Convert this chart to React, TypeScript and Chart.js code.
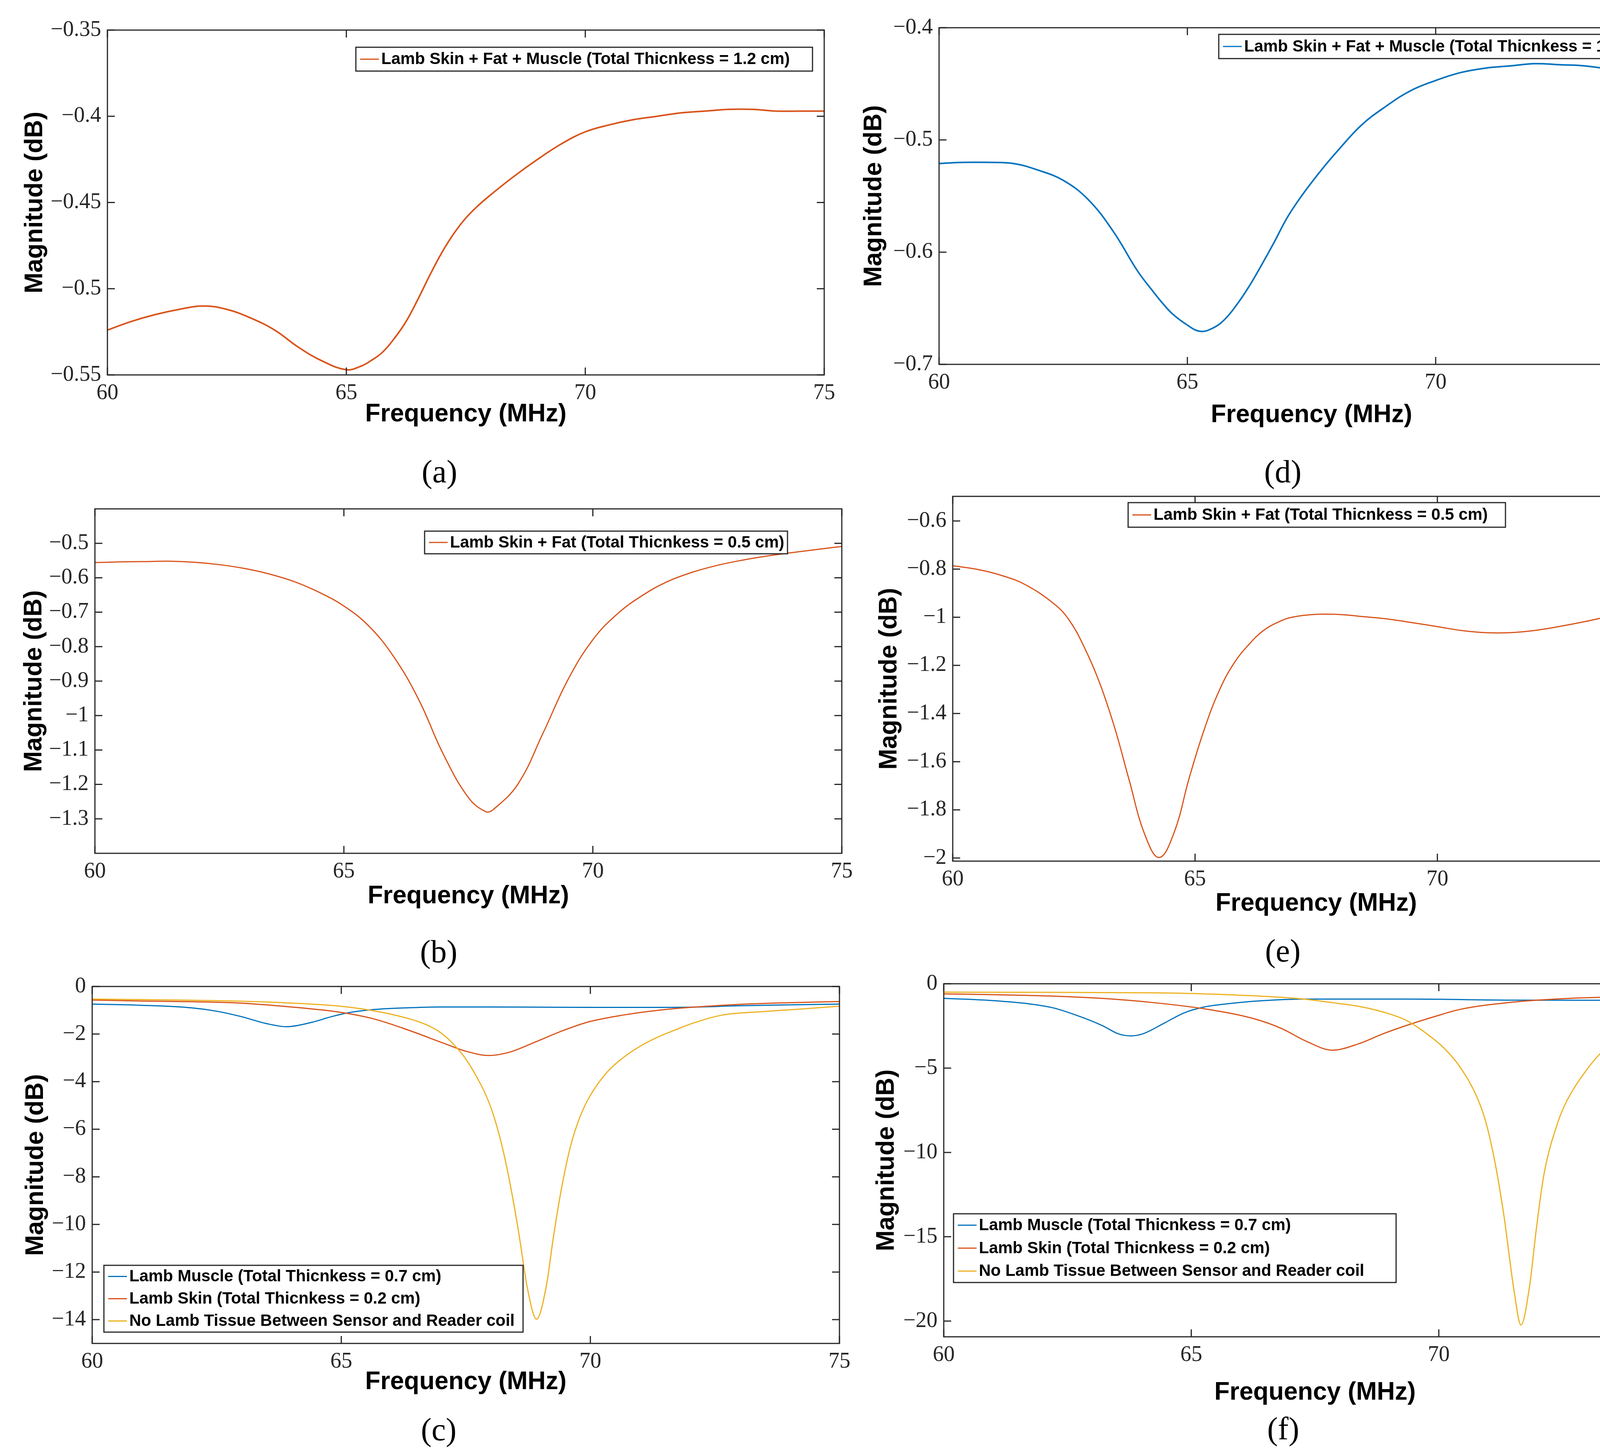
import React, { useEffect, useRef } from 'react';
import { Chart, registerables } from 'chart.js';

Chart.register(...registerables);

// ---------------- data ----------------
const FREQ_TICKS = [60, 65, 70, 75];

const BLUE = '#0072BD';
const ORANGE = '#D95319';
const YELLOW = '#EDB120';

// (a) Lamb Skin + Fat + Muscle, 1.2 cm
const freqA = [60, 60.5, 61, 61.5, 62, 62.5, 63, 63.5, 64, 64.5, 65, 65.3, 65.5, 65.75, 66, 66.25, 66.5, 66.75, 67, 67.25, 67.5, 67.75, 68, 68.5, 69, 69.5, 70, 70.5, 71, 71.5, 72, 72.5, 73, 73.5, 74, 74.5, 75];
const magA = [-0.524, -0.519, -0.515, -0.512, -0.510, -0.512, -0.517, -0.524, -0.534, -0.542, -0.547, -0.545, -0.542, -0.537, -0.529, -0.519, -0.506, -0.492, -0.479, -0.468, -0.459, -0.452, -0.446, -0.435, -0.425, -0.416, -0.409, -0.405, -0.402, -0.400, -0.398, -0.397, -0.396, -0.396, -0.397, -0.397, -0.397];
const yTicksA = [-0.55, -0.5, -0.45, -0.4, -0.35];

// (d) Lamb Skin + Fat + Muscle, 1.2 cm
const freqD = [60, 60.5, 61, 61.5, 62, 62.5, 63, 63.5, 64, 64.3, 64.5, 64.7, 65, 65.25, 65.5, 65.75, 66, 66.25, 66.5, 66.75, 67, 67.25, 67.5, 67.75, 68, 68.5, 69, 69.5, 70, 70.5, 71, 71.5, 72, 72.5, 73, 73.5, 74, 74.5, 75];
const magD = [-0.521, -0.520, -0.520, -0.521, -0.527, -0.536, -0.553, -0.581, -0.617, -0.6345, -0.6455, -0.655, -0.665, -0.6705, -0.668, -0.660, -0.6465, -0.630, -0.611, -0.591, -0.570, -0.553, -0.538, -0.524, -0.511, -0.487, -0.470, -0.456, -0.447, -0.440, -0.436, -0.434, -0.432, -0.433, -0.434, -0.437, -0.441, -0.444, -0.449];
const yTicksD = [-0.7, -0.6, -0.5, -0.4];

// (b) Lamb Skin + Fat, 0.5 cm
const freqB = [60, 60.5, 61, 61.5, 62, 62.5, 63, 63.5, 64, 64.5, 65, 65.5, 66, 66.5, 67, 67.5, 67.85, 68, 68.5, 69, 69.5, 70, 70.5, 71, 71.5, 72, 72.5, 73, 73.5, 74, 74.5, 75];
const magB = [-0.556, -0.554, -0.553, -0.552, -0.555, -0.562, -0.573, -0.589, -0.611, -0.642, -0.682, -0.740, -0.829, -0.953, -1.113, -1.238, -1.279, -1.273, -1.198, -1.051, -0.896, -0.780, -0.704, -0.651, -0.611, -0.584, -0.564, -0.549, -0.537, -0.527, -0.518, -0.509];
const yTicksB = [-1.3, -1.2, -1.1, -1, -0.9, -0.8, -0.7, -0.6, -0.5];

// (e) Lamb Skin + Fat, 0.5 cm
const freqE = [60, 60.5, 61, 61.5, 62.1, 62.41, 62.72, 63.03, 63.34, 63.64, 63.96, 64.26, 64.57, 64.88, 65.19, 65.5, 65.8, 66.12, 66.42, 66.73, 67, 67.5, 68, 68.5, 69, 69.5, 70, 70.5, 71, 71.5, 72, 72.5, 73, 73.5, 74, 74.5, 75];
const magE = [-0.786, -0.801, -0.826, -0.865, -0.946, -1.014, -1.127, -1.272, -1.458, -1.676, -1.901, -1.998, -1.893, -1.667, -1.466, -1.304, -1.192, -1.111, -1.054, -1.019, -1.000, -0.988, -0.989, -0.998, -1.008, -1.023, -1.039, -1.055, -1.064, -1.064, -1.055, -1.039, -1.020, -0.998, -0.975, -0.954, -0.934];
const yTicksE = [-2, -1.8, -1.6, -1.4, -1.2, -1, -0.8, -0.6];

// (c) three series
const freqC1 = [60, 61, 62, 62.5, 63, 63.5, 63.9, 64.4, 64.8, 65.1, 65.65, 66.4, 67, 68, 69, 70, 71, 72, 73, 74, 75];
const magC1 = [-0.74, -0.79, -0.90, -1.04, -1.27, -1.56, -1.69, -1.51, -1.27, -1.12, -0.97, -0.89, -0.86, -0.86, -0.87, -0.88, -0.88, -0.87, -0.81, -0.77, -0.74];
const freqC2 = [60, 61, 62, 63, 64.2, 64.94, 65.65, 66.37, 67.1, 67.5, 67.97, 68.38, 68.91, 69.43, 69.96, 70.66, 71.36, 72.06, 73, 74, 75];
const magC2 = [-0.57, -0.61, -0.64, -0.70, -0.90, -1.07, -1.36, -1.85, -2.42, -2.72, -2.90, -2.76, -2.32, -1.87, -1.49, -1.20, -1.00, -0.87, -0.75, -0.68, -0.63];
const freqC3 = [60, 61, 62, 63, 64.22, 64.94, 65.65, 66.37, 66.72, 67.0, 67.25, 67.5, 67.75, 67.9, 68.04, 68.21, 68.38, 68.56, 68.74, 68.92, 69.12, 69.26, 69.43, 69.61, 69.79, 69.96, 70.31, 70.66, 71.01, 71.36, 71.71, 72.06, 72.65, 73.5, 74.2, 75];
const magC3 = [-0.53, -0.55, -0.58, -0.62, -0.72, -0.82, -1.02, -1.36, -1.62, -1.95, -2.42, -3.05, -3.92, -4.55, -5.31, -6.56, -8.2, -10.32, -12.72, -13.98, -12.54, -10.5, -8.38, -6.65, -5.49, -4.72, -3.66, -2.99, -2.5, -2.12, -1.82, -1.54, -1.2, -1.05, -0.95, -0.83];
const yTicksC = [-14, -12, -10, -8, -6, -4, -2, 0];

// (f) three series
const freqF1 = [60, 61.14, 62.18, 62.69, 63.21, 63.52, 63.78, 64.03, 64.45, 64.86, 65.27, 65.79, 66.3, 67.33, 69.4, 71.46, 73.53, 75];
const magF1 = [-0.86, -1.03, -1.41, -1.88, -2.49, -2.96, -3.09, -2.96, -2.34, -1.72, -1.37, -1.17, -1.03, -0.91, -0.91, -0.97, -0.98, -0.94];
const freqF2 = [60, 61, 62.18, 63.21, 64.24, 65.27, 66.3, 66.82, 67.33, 67.85, 68.37, 68.88, 69.4, 69.91, 70.43, 71.5, 72.55, 73.6, 75];
const magF2 = [-0.6, -0.65, -0.73, -0.87, -1.12, -1.49, -2.1, -2.65, -3.42, -3.94, -3.57, -2.96, -2.42, -1.95, -1.52, -1.09, -0.88, -0.78, -0.69];
const freqF3 = [60, 62.18, 64.24, 65.27, 66.3, 67.13, 67.85, 68.37, 68.88, 69.35, 69.75, 70.1, 70.42, 70.78, 70.96, 71.14, 71.32, 71.51, 71.66, 71.83, 71.97, 72.12, 72.41, 72.59, 72.95, 73.31, 73.68, 74.04, 74.4, 75];
const magF3 = [-0.5, -0.51, -0.54, -0.6, -0.72, -0.87, -1.12, -1.33, -1.68, -2.18, -2.95, -3.8, -4.9, -6.78, -8.31, -10.67, -13.84, -18.0, -20.23, -18.0, -14.54, -11.37, -8.17, -6.92, -5.25, -4.0, -3.24, -2.75, -2.34, -1.85];
const yTicksF = [-20, -15, -10, -5, 0];

const LBL_FULL = 'Lamb Skin + Fat + Muscle (Total Thicnkess = 1.2 cm)';
const LBL_SKINFAT = 'Lamb Skin + Fat (Total Thicnkess = 0.5 cm)';
const LBL_MUSCLE = 'Lamb Muscle (Total Thicnkess = 0.7 cm)';
const LBL_SKIN = 'Lamb Skin (Total Thicnkess = 0.2 cm)';
const LBL_NONE = 'No Lamb Tissue Between Sensor and Reader coil';

// ---------------- layout ----------------
type Series = { label: string; freq: number[]; mag: number[]; color: string; width: number };
type Panel = {
  caption: string;
  canvas: [number, number, number, number];
  area: [number, number, number, number];
  yMin: number;
  yMax: number;
  yTicks: number[];
  yTitleX: number;
  xTitleY: number;
  legend: [number, number, number, number];
  captionPos: [number, number];
  smooth: boolean;
  series: Series[];
};

const PANELS: Panel[] = [
  {
    caption: '(a)', canvas: [0, 0, 2200, 1140], area: [275, 77, 2110, 960],
    yMin: -0.55, yMax: -0.35, yTicks: yTicksA, yTitleX: 90, xTitleY: 1061,
    legend: [911, 121, 1169, 61], captionPos: [1125, 1208], smooth: true,
    series: [{ label: LBL_FULL, freq: freqA, mag: magA, color: ORANGE, width: 4 }],
  },
  {
    caption: '(d)', canvas: [2180, 0, 2180, 1140], area: [2404, 71, 4311, 933],
    yMin: -0.7, yMax: -0.4, yTicks: yTicksD, yTitleX: 2238, xTitleY: 1063,
    legend: [3120, 88, 1177, 62], captionPos: [3284, 1208], smooth: true,
    series: [{ label: LBL_FULL, freq: freqD, mag: magD, color: BLUE, width: 4 }],
  },
  {
    caption: '(b)', canvas: [0, 1230, 2200, 1150], area: [243, 1303, 2155, 2185],
    yMin: -1.4, yMax: -0.4, yTicks: yTicksB, yTitleX: 88, xTitleY: 2295,
    legend: [1087, 1360, 929, 58], captionPos: [1123, 2437], smooth: true,
    series: [{ label: LBL_SKINFAT, freq: freqB, mag: magB, color: ORANGE, width: 3 }],
  },
  {
    caption: '(e)', canvas: [2180, 1230, 2180, 1150], area: [2439, 1271, 4300, 2205],
    yMin: -2.013, yMax: -0.498, yTicks: yTicksE, yTitleX: 2277, xTitleY: 2314,
    legend: [2888, 1287, 966, 63], captionPos: [3284, 2435], smooth: true,
    series: [{ label: LBL_SKINFAT, freq: freqE, mag: magE, color: ORANGE, width: 3 }],
  },
  {
    caption: '(c)', canvas: [0, 2460, 2200, 1150], area: [236, 2526, 2149, 3440],
    yMin: -15, yMax: 0, yTicks: yTicksC, yTitleX: 92, xTitleY: 3539,
    legend: [266, 3240, 1073, 171], captionPos: [1123, 3661], smooth: false,
    series: [
      { label: LBL_MUSCLE, freq: freqC1, mag: magC1, color: BLUE, width: 3 },
      { label: LBL_SKIN, freq: freqC2, mag: magC2, color: ORANGE, width: 3 },
      { label: LBL_NONE, freq: freqC3, mag: magC3, color: YELLOW, width: 3 },
    ],
  },
  {
    caption: '(f)', canvas: [2180, 2460, 2180, 1150], area: [2416, 2519, 4317, 3423],
    yMin: -20.93, yMax: 0, yTicks: yTicksF, yTitleX: 2270, xTitleY: 3566,
    legend: [2441, 3108, 1133, 176], captionPos: [3285, 3659], smooth: false,
    series: [
      { label: LBL_MUSCLE, freq: freqF1, mag: magF1, color: BLUE, width: 3 },
      { label: LBL_SKIN, freq: freqF2, mag: magF2, color: ORANGE, width: 3 },
      { label: LBL_NONE, freq: freqF3, mag: magF3, color: YELLOW, width: 3 },
    ],
  },
];

const AXIS_COLOR = '#262626';
const TICK_FONT = '"Liberation Serif", "Times New Roman", serif';
const SANS = '"Liberation Sans", Arial, Helvetica, sans-serif';

const fmt = (v: number) => {
  const s = String(parseFloat(Number(v).toFixed(3)));
  return s.startsWith('-') ? '\u2212' + s.slice(1) : s;
};

// MATLAB-like box, inward ticks and legend box
const matlabPlugin = {
  id: 'matlabAxes',
  afterDatasetsDraw(chart: any, _args: any, opts: any) {
    const { ctx, chartArea } = chart;
    const { left, top, right, bottom } = chartArea;
    const xs = chart.scales.x;
    const ys = chart.scales.y;
    const TL = 19;
    ctx.save();
    ctx.strokeStyle = AXIS_COLOR;
    ctx.lineWidth = 3;
    ctx.beginPath();
    xs.ticks.forEach((t: any) => {
      const px = xs.getPixelForValue(t.value);
      ctx.moveTo(px, bottom);
      ctx.lineTo(px, bottom - TL);
      ctx.moveTo(px, top);
      ctx.lineTo(px, top + TL);
    });
    ys.ticks.forEach((t: any) => {
      const py = ys.getPixelForValue(t.value);
      ctx.moveTo(left, py);
      ctx.lineTo(left + TL, py);
      ctx.moveTo(right, py);
      ctx.lineTo(right - TL, py);
    });
    ctx.stroke();
    ctx.strokeRect(left, top, right - left, bottom - top);

    const box = opts && opts.box;
    if (box) {
      const [bx, by, bw, bh] = box;
      ctx.fillStyle = '#ffffff';
      ctx.fillRect(bx, by, bw, bh);
      ctx.strokeStyle = AXIS_COLOR;
      ctx.lineWidth = 3;
      ctx.strokeRect(bx, by, bw, bh);
      const ds = chart.data.datasets;
      const n = ds.length;
      ctx.font = `bold 42px ${SANS}`;
      ctx.textAlign = 'left';
      ctx.textBaseline = 'middle';
      ds.forEach((d: any, i: number) => {
        const cy = by + (bh * (i + 0.5)) / n;
        ctx.strokeStyle = d.borderColor;
        ctx.lineWidth = 3;
        ctx.beginPath();
        ctx.moveTo(bx + 11, cy);
        ctx.lineTo(bx + 59, cy);
        ctx.stroke();
        ctx.fillStyle = '#000000';
        ctx.fillText(d.label, bx + 65, cy + 1);
      });
    }
    ctx.restore();
  },
};

function PanelChart({ p }: { p: Panel }) {
  const ref = useRef<HTMLCanvasElement | null>(null);
  const [x0, y0, w, h] = p.canvas;
  useEffect(() => {
    const [L, T, R, B] = p.area;
    const yWidth = L - x0;
    const xHeight = p.xTitleY - B + 32;
    const chart = new Chart(ref.current as HTMLCanvasElement, {
      type: 'line',
      data: {
        datasets: p.series.map((s, i) => ({
          label: s.label,
          data: s.freq.map((f, k) => ({ x: f, y: s.mag[k] })),
          borderColor: s.color,
          backgroundColor: s.color,
          borderWidth: s.width,
          pointRadius: 0,
          fill: false,
          cubicInterpolationMode: p.smooth ? 'default' : 'monotone',
          tension: p.smooth ? 0.4 : 0,
          order: -i,
        })),
      },
      options: {
        responsive: false,
        animation: false,
        devicePixelRatio: 1,
        events: [],
        layout: {
          padding: { left: 0, top: T - y0, right: x0 + w - R, bottom: y0 + h - B - xHeight },
        },
        plugins: {
          legend: { display: false },
          title: { display: false },
          tooltip: { enabled: false },
          matlabAxes: { box: [p.legend[0] - x0, p.legend[1] - y0, p.legend[2], p.legend[3]] },
        } as any,
        scales: {
          x: {
            type: 'linear',
            min: 60,
            max: 75,
            afterBuildTicks: (s: any) => {
              s.ticks = FREQ_TICKS.map((v) => ({ value: v }));
            },
            afterFit: (s: any) => {
              s.height = xHeight;
              s.paddingLeft = 0;
              s.paddingRight = 0;
            },
            grid: { display: false, drawTicks: false },
            border: { display: false },
            ticks: {
              autoSkip: false,
              maxRotation: 0,
              padding: 14,
              color: AXIS_COLOR,
              font: { family: TICK_FONT, size: 56, lineHeight: 1.2 },
              callback: (v: any) => fmt(Number(v)),
            },
            title: {
              display: true,
              text: 'Frequency (MHz)',
              color: '#000000',
              padding: 0,
              font: { family: SANS, size: 64, weight: 'bold', lineHeight: 1 },
            },
          },
          y: {
            type: 'linear',
            min: p.yMin,
            max: p.yMax,
            afterBuildTicks: (s: any) => {
              s.ticks = p.yTicks.map((v) => ({ value: v }));
            },
            afterFit: (s: any) => {
              s.width = yWidth;
              s.paddingTop = 0;
              s.paddingBottom = 0;
            },
            grid: { display: false, drawTicks: false },
            border: { display: false },
            ticks: {
              autoSkip: false,
              padding: 16,
              color: AXIS_COLOR,
              font: { family: TICK_FONT, size: 56, lineHeight: 1.2 },
              callback: (v: any) => fmt(Number(v)),
            },
            title: {
              display: true,
              text: 'Magnitude (dB)',
              color: '#000000',
              padding: { top: p.yTitleX - x0 - 32, bottom: 0 },
              font: { family: SANS, size: 64, weight: 'bold', lineHeight: 1 },
            },
          },
        },
      } as any,
      plugins: [matlabPlugin],
    });
    return () => chart.destroy();
  }, [p]);
  return (
    <canvas
      ref={ref}
      width={w}
      height={h}
      style={{ position: 'absolute', left: x0, top: y0, width: w, height: h }}
    />
  );
}

export default function App() {
  return (
    <div
      style={{
        position: 'absolute',
        left: 0,
        top: 0,
        width: 4360,
        height: 3718,
        background: '#ffffff',
        overflow: 'hidden',
      }}
    >
      {PANELS.map((p) => (
        <PanelChart key={p.caption} p={p} />
      ))}
      {PANELS.map((p) => (
        <div
          key={'cap' + p.caption}
          style={{
            position: 'absolute',
            left: p.captionPos[0],
            top: p.captionPos[1],
            transform: 'translate(-50%, -50%)',
            fontFamily: '"Liberation Serif", "Times New Roman", serif',
            fontSize: 82,
            lineHeight: 1,
            color: '#000000',
            whiteSpace: 'nowrap',
          }}
        >
          {p.caption}
        </div>
      ))}
    </div>
  );
}
